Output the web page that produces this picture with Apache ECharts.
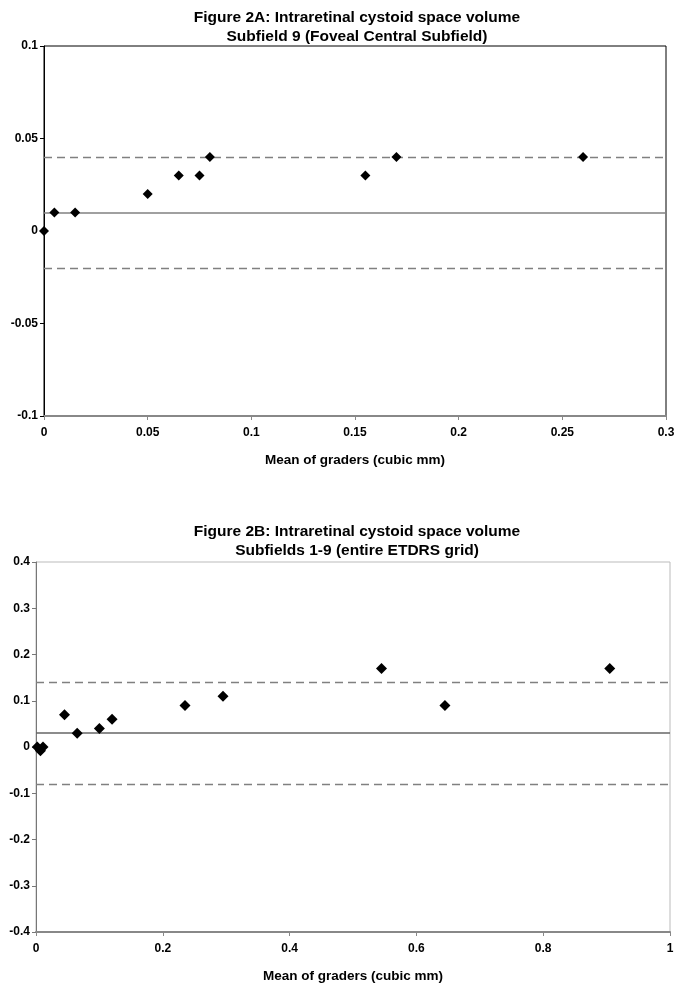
<!DOCTYPE html>
<html>
<head>
<meta charset="utf-8">
<script src="https://cdn.jsdelivr.net/npm/echarts@6/dist/echarts.min.js"></script>
<style>
html,body{margin:0;padding:0;background:#fff;}
#c{width:681px;height:988px;}
</style>
</head>
<body>
<div id="c"></div>
<script>
// Figure 2A data
const titleA = 'Figure 2A: Intraretinal cystoid space volume\nSubfield 9 (Foveal Central Subfield)';
const xA = [0, 0.005, 0.015, 0.05, 0.065, 0.075, 0.08, 0.155, 0.17, 0.26];
const yA = [0, 0.01, 0.01, 0.02, 0.03, 0.03, 0.04, 0.03, 0.04, 0.04];
const meanA = 0.0105;
const upperA = 0.0405;
const lowerA = -0.0195;
const xTicksA = [0, 0.05, 0.1, 0.15, 0.2, 0.25, 0.3];
const yTicksA = [-0.1, -0.05, 0, 0.05, 0.1];

// Figure 2B data
const titleB = 'Figure 2B: Intraretinal cystoid space volume\nSubfields 1-9 (entire ETDRS grid)';
const xB = [0.002, 0.007, 0.011, 0.045, 0.065, 0.1, 0.12, 0.235, 0.295, 0.545, 0.645, 0.905];
const yB = [0, -0.008, 0, 0.07, 0.03, 0.04, 0.06, 0.09, 0.11, 0.17, 0.09, 0.17];
const meanB = 0.032;
const upperB = 0.14;
const lowerB = -0.076;
const xTicksB = [0, 0.2, 0.4, 0.6, 0.8, 1];
const yTicksB = [-0.4, -0.3, -0.2, -0.1, 0, 0.1, 0.2, 0.3, 0.4];

const xLabel = 'Mean of graders (cubic mm)';

const FONT = '"Liberation Sans", Arial, sans-serif';
const pairs = (xs, ys) => xs.map((x, i) => [x, ys[i]]);
const step = a => +(a[1] - a[0]).toFixed(6);

const chart = echarts.init(document.getElementById('c'), null, {renderer: 'canvas'});

function axisX(ticks, gridIndex) {
  return {
    type: 'value', gridIndex,
    min: ticks[0], max: ticks[ticks.length - 1], interval: step(ticks),
    name: xLabel, nameLocation: 'middle', nameGap: 37,
    nameTextStyle: {fontFamily: FONT, fontWeight: 'bold', fontSize: 13.5, color: '#000'},
    axisLine: {show: true, onZero: false, lineStyle: {color: '#888', width: 2}},
    axisTick: {show: true, length: 4, lineStyle: {color: '#888', width: 1}},
    axisLabel: {fontFamily: FONT, fontWeight: 'bold', fontSize: 12, color: '#000', margin: 11,
      formatter: v => String(+v.toFixed(4))},
    splitLine: {show: false}
  };
}
function axisY(ticks, gridIndex, lineColor) {
  return {
    type: 'value', gridIndex,
    min: ticks[0], max: ticks[ticks.length - 1], interval: step(ticks),
    axisLine: {show: true, onZero: false, lineStyle: {color: lineColor, width: 1}},
    axisTick: {show: true, length: 4, lineStyle: {color: lineColor, width: 1}},
    axisLabel: {fontFamily: FONT, fontWeight: 'bold', fontSize: 12, color: '#000', margin: 6,
      formatter: v => String(+v.toFixed(4))},
    splitLine: {show: false}
  };
}
function refLines(mean, upper, lower, meanColor) {
  return {
    silent: true, symbol: 'none', label: {show: false},
    data: [
      {yAxis: mean, lineStyle: {type: 'solid', color: meanColor, width: 1.5}},
      {yAxis: upper, lineStyle: {type: [8, 5], color: '#808080', width: 1.3}},
      {yAxis: lower, lineStyle: {type: [8, 5], color: '#808080', width: 1.3}}
    ]
  };
}

chart.setOption({
  animation: false,
  backgroundColor: '#fff',
  title: [
    {text: titleA, left: 352, top: 3, textAlign: 'center',
     textStyle: {fontFamily: FONT, fontWeight: 'bold', fontSize: 15.5, lineHeight: 19, color: '#000'}},
    {text: titleB, left: 352, top: 517, textAlign: 'center',
     textStyle: {fontFamily: FONT, fontWeight: 'bold', fontSize: 15.5, lineHeight: 19, color: '#000'}}
  ],
  grid: [
    {left: 44, right: 15, top: 46, height: 370, show: true, borderColor: '#000', borderWidth: 1, backgroundColor: 'transparent'},
    {left: 36, right: 11, top: 562, height: 370, show: true, borderColor: '#bbb', borderWidth: 1, backgroundColor: 'transparent'}
  ],
  xAxis: [axisX(xTicksA, 0), axisX(xTicksB, 1)],
  yAxis: [axisY(yTicksA, 0, '#000'), axisY(yTicksB, 1, '#777')],
  series: [
    {type: 'scatter', xAxisIndex: 0, yAxisIndex: 0, data: pairs(xA, yA),
     symbol: 'diamond', symbolSize: 10, itemStyle: {color: '#000', opacity: 1}, z: 5,
     markLine: refLines(meanA, upperA, lowerA, '#808080')},
    {type: 'scatter', xAxisIndex: 1, yAxisIndex: 1, data: pairs(xB, yB),
     symbol: 'diamond', symbolSize: 11, itemStyle: {color: '#000', opacity: 1}, z: 5,
     markLine: refLines(meanB, upperB, lowerB, '#666')}
  ]
});
</script>
</body>
</html>
